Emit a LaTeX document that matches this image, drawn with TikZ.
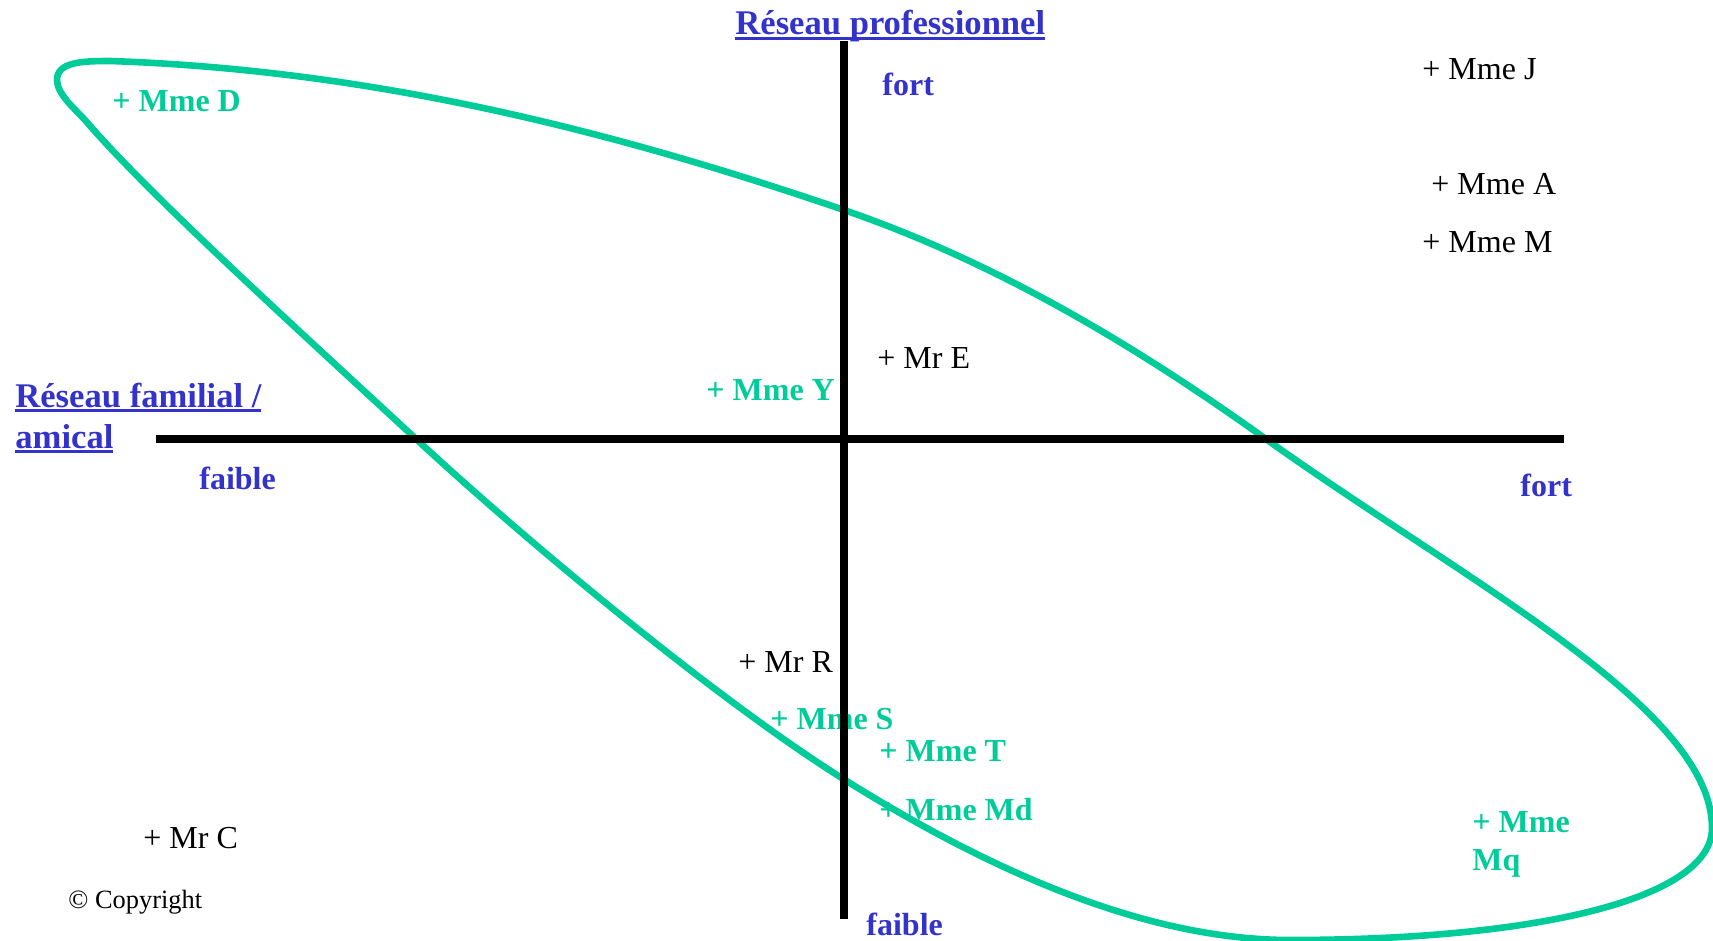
\documentclass[tikz,border=0pt]{standalone}
\usepackage{fontspec}
\setmainfont{Liberation Serif}
\usepackage{xcolor}
\usetikzlibrary{positioning,calc}

\definecolor{vert}{HTML}{00CC99}
\definecolor{bleu}{HTML}{3333CC}

% soulignement a la maniere du diaporama
\newcommand{\souligne}[1]{\setbox0\hbox{#1}\rlap{\rule[-2.4pt]{\wd0}{1.3pt}}\box0}

\begin{document}
\begin{tikzpicture}[x=0.5pt, y=-0.5pt,
  axe/.style={line width=3.6pt, line cap=butt},
  boucle/.style={line width=3.3pt, draw=vert},
  nom/.style={anchor=base west, inner sep=0pt, font=\fontsize{16}{19}\selectfont},
  nomvert/.style={nom, text=vert, font=\fontsize{16}{19}\selectfont\bfseries},
  pole/.style={nom, text=bleu, font=\fontsize{16}{19}\selectfont\bfseries},
  titre/.style={nom, text=bleu, font=\fontsize{17.3}{20}\selectfont\bfseries}]
  \useasboundingbox (0,0) rectangle (1713,941);

  % titres des axes
  \node[titre] (pro) at (735,35) {\souligne{Réseau professionnel}};
  \node[titre] (famil) at (15,407) {\souligne{Réseau familial /}};
  \node[titre] (amical) at ($(famil.base west)+(0,41)$) {\souligne{amical}};
  \node[pole] (profort) at (882,96) {fort};
  \node[pole] (profaible) at (866,935) {faible};
  \node[pole] (famfaible) at (199,489) {faible};
  \node[pole] (famfort) at (1520,496) {fort};

  % personnes hors du groupe
  \node[nom] (mmeJ) at (1422,80) {+ Mme J};
  \node[nom] (mmeA) at (1431,195) {+ Mme A};
  \node[nom] (mmeM) at (1422,253) {+ Mme M};
  \node[nom] (mrE) at (877,368) {+ Mr E};
  \node[nom] (mrR) at (738,672) {+ Mr R};
  \node[nom] (mrC) at (143,848) {+ Mr C};
  \node[nom, font=\fontsize{13.2}{16}\selectfont] (copy) at (68,908) {© Copyright};

  % personnes du groupe
  \node[nomvert] (mmeD) at (112,112) {+ Mme D};
  \node[nomvert] (mmeY) at (706,400) {+ Mme Y};
  \node[nomvert] (mmeS) at (770,729) {+ Mme S};
  \node[nomvert] (mmeT) at (879,761) {+ Mme T};
  \node[nomvert] (mmeMd) at (879,820) {+ Mme Md};
  \node[nomvert] (mmeMq) at (1472,832) {+ Mme};
  \node[nomvert] (mq) at ($(mmeMq.base west)+(0,38)$) {Mq};

  % la boucle
  \draw[boucle] (57,80) .. controls (57,62) and (82,61) .. (110,61)
    .. controls (370,70) and (607,129) .. (844,210)
    .. controls (995,262) and (1133,344) .. (1263,437)
    .. controls (1466,582) and (1712,708) .. (1712,828)
    .. controls (1712,898) and (1540,940) .. (1290,940)
    .. controls (1140,940) and (981,865) .. (845,780)
    .. controls (717,700) and (525,540) .. (415,438)
    .. controls (305,336) and (150,196) .. (85,120)
    .. controls (75,109) and (57,94) .. (57,80) -- cycle;

  % axes
  \coordinate (haut) at (844,41);
  \coordinate (bas) at (844,919);
  \coordinate (gauche) at (156,439);
  \coordinate (droite) at (1564,439);
  \draw[axe] (bas) -- (haut);
  \draw[axe] (gauche) -- (droite);
\end{tikzpicture}
\end{document}
